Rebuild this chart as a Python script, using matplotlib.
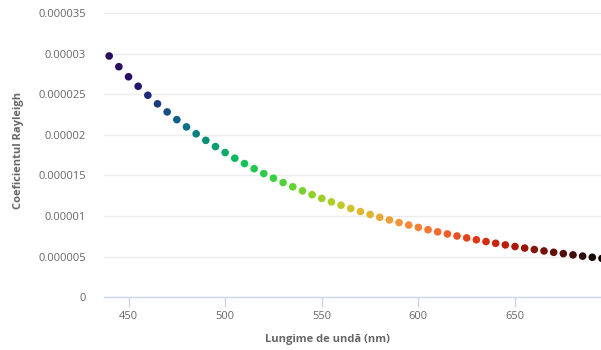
import matplotlib
matplotlib.use("Agg")
import matplotlib.pyplot as plt

plt.rcParams['font.family'] = ['Open Sans', 'DejaVu Sans']

# lungime de unda (nm)
wavelengths = [440, 445, 450, 455, 460, 465, 470, 475, 480, 485,
               490, 495, 500, 505, 510, 515, 520, 525, 530, 535,
               540, 545, 550, 555, 560, 565, 570, 575, 580, 585,
               590, 595, 600, 605, 610, 615, 620, 625, 630, 635,
               640, 645, 650, 655, 660, 665, 670, 675, 680, 685,
               690, 695]

# coeficientul Rayleigh (x 1e-6)
rayleigh = [29.70, 28.38, 27.14, 25.97, 24.86, 23.81, 22.81, 21.86, 20.97, 20.12,
            19.31, 18.54, 17.81, 17.11, 16.45, 15.82, 15.22, 14.65, 14.11, 13.59,
            13.09, 12.62, 12.16, 11.73, 11.32, 10.92, 10.54, 10.18, 9.835, 9.503,
            9.185, 8.880, 8.588, 8.308, 8.039, 7.780, 7.532, 7.294, 7.065, 6.845,
            6.634, 6.431, 6.235, 6.047, 5.866, 5.691, 5.523, 5.361, 5.205, 5.055,
            4.910, 4.770]

colors = ['#2b0a5e', '#2a0c62', '#280f66', '#24186c', '#1f2a74', '#1a3c7c', '#164f82', '#0f6084', '#0a7083', '#08807e',
          '#069076', '#069e6e', '#08ac66', '#0ab860', '#14c258', '#20c850', '#2ccc48', '#3cd040', '#50d23a', '#62d234',
          '#78d02e', '#8cd02a', '#9ece28', '#aecc24', '#bec826', '#cec22a', '#dabb2e', '#e2b234', '#eaa838', '#f09e3a',
          '#f4943a', '#f68a38', '#f68036', '#f47632', '#f26a2c', '#ee5e26', '#ea5020', '#e4441a', '#de3814', '#d42c10',
          '#c8240c', '#b81e0a', '#a81a08', '#981608', '#861408', '#741208', '#621008', '#520e0a', '#420c0a', '#320a0a',
          '#1a0808', '#100606']

yticks = [0, 5e-6, 10e-6, 15e-6, 20e-6, 25e-6, 30e-6, 35e-6]
ytick_labels = ['0', '0.000005', '0.00001', '0.000015', '0.00002', '0.000025', '0.00003', '0.000035']
xticks = [450, 500, 550, 600, 650]

fig = plt.figure(figsize=(6.01, 3.5), dpi=100)
ax = fig.add_axes([0.173, 0.151, 0.827, 0.812])

ax.scatter(wavelengths, [v * 1e-6 for v in rayleigh], s=30, c=colors, zorder=3, linewidths=0)

ax.set_xlim(437.3, 694.5)
ax.set_ylim(0, 35e-6)
ax.set_yticks(yticks)
ax.set_yticklabels(ytick_labels)
ax.set_xticks(xticks)

ax.grid(axis='y', color='#ececec', linewidth=1)
ax.set_axisbelow(True)
for s in ['top', 'right', 'left']:
    ax.spines[s].set_visible(False)
ax.spines['bottom'].set_color('#ccd6eb')
ax.spines['bottom'].set_linewidth(1)
ax.tick_params(axis='y', length=0, pad=13, labelsize=8, labelcolor='#666666')
ax.tick_params(axis='x', length=7, width=1, color='#ccd6eb', pad=3, labelsize=8, labelcolor='#666666')

fig.text(0.03, 0.57, 'Coeficientul Rayleigh', rotation=90, ha='center', va='center',
         fontsize=8, fontweight='bold', color='#666666')
fig.text(0.545, 0.03, 'Lungime de undă (nm)', ha='center', va='center',
         fontsize=8, fontweight='bold', color='#666666')

fig.savefig('out.png', dpi=100)
